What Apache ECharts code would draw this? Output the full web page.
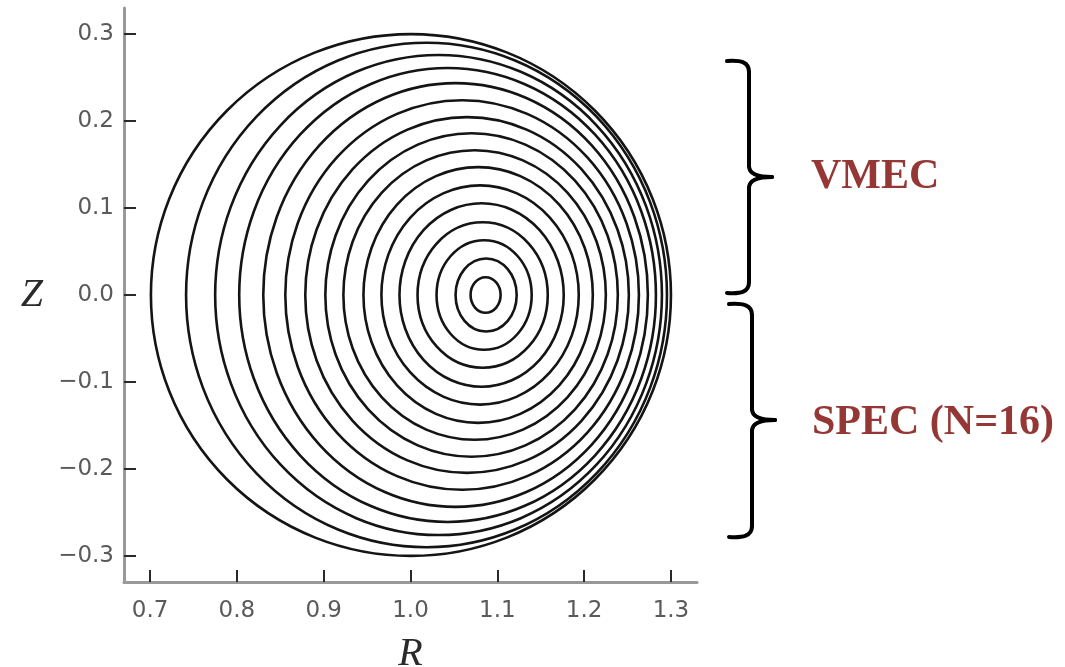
<!DOCTYPE html>
<html>
<head>
<meta charset="utf-8">
<script src="https://cdn.jsdelivr.net/npm/echarts@6/dist/echarts.min.js"></script>
<style>
  html, body { margin: 0; padding: 0; background: #ffffff; }
  #chart { width: 1065px; height: 667px; }
</style>
</head>
<body>
<div id="chart"></div>
<script>
// Nested flux surfaces, outermost first.
// Inboard / outboard midplane crossings (R) and half-height (Z) of each surface.
const surfaceRIn  = [0.701, 0.7415, 0.775, 0.8027, 0.8304, 0.8558, 0.8788, 0.9019,
                     0.9227, 0.9458, 0.9665, 0.9873, 1.0081, 1.0300, 1.0519, 1.0692];
const surfaceROut = [1.300, 1.2954, 1.2896, 1.2827, 1.2734, 1.2631, 1.2515, 1.2388,
                     1.2250, 1.2100, 1.1938, 1.1765, 1.1581, 1.1396, 1.1223, 1.1038];
const surfaceZTop = [0.300, 0.290, 0.276, 0.261, 0.2436, 0.224, 0.2045, 0.186,
                     0.1665, 0.147, 0.126, 0.1055, 0.0837, 0.063, 0.042, 0.0204];

// Axis ticks
const rTicks = [0.7, 0.8, 0.9, 1.0, 1.1, 1.2, 1.3];
const zTicks = [-0.3, -0.2, -0.1, 0.0, 0.1, 0.2, 0.3];

// Annotation texts for the upper and lower halves
const upperLabel = 'VMEC';
const lowerLabel = 'SPEC (N=16)';

const surfaces = surfaceRIn.map((rin, i) => [
  (rin + surfaceROut[i]) / 2,          // centre R
  (surfaceROut[i] - rin) / 2,          // half-width
  surfaceZTop[i]                       // half-height
]);

const fmt = v => (v < 0 ? '\u2212' : '') + Math.abs(v).toFixed(1);

const chart = echarts.init(document.getElementById('chart'), null, { renderer: 'canvas' });

const axisCommon = {
  type: 'value',
  splitLine: { show: false },
  axisLine: { show: true, onZero: false, lineStyle: { color: '#999999', width: 3 } },
  axisTick: { show: true, inside: true, length: 12, lineStyle: { color: '#2a2a2a', width: 2 } },
  axisLabel: {
    color: '#5a5a5a',
    fontFamily: 'DejaVu Sans',
    fontSize: 23,
    formatter: fmt
  },
  nameTextStyle: {
    fontFamily: 'Liberation Serif',
    fontStyle: 'italic',
    fontSize: 40,
    color: '#2a2a2a'
  }
};

const braceStyle = { fill: 'none', stroke: '#000000', lineWidth: 4, lineCap: 'round' };
const labelStyle = { fill: '#953735', fontFamily: 'Liberation Serif', fontWeight: 'bold', fontSize: 42 };

// Right-facing curly brace built from lines and cubic curves
function brace(xEnd, xBar, xTip, yTop, yMid, yBot) {
  const bz = (x1, y1, c1x, c1y, c2x, c2y, x2, y2) => ({
    type: 'bezierCurve', style: braceStyle,
    shape: { x1: x1, y1: y1, cpx1: c1x, cpy1: c1y, cpx2: c2x, cpy2: c2y, x2: x2, y2: y2 }
  });
  const ln = (x1, y1, x2, y2) => ({
    type: 'line', style: braceStyle, shape: { x1: x1, y1: y1, x2: x2, y2: y2 }
  });
  return [
    bz(xEnd, yTop, xEnd + 14, yTop - 1, xBar, yTop + 1, xBar, yTop + 11),
    ln(xBar, yTop + 11, xBar, yMid - 11),
    bz(xBar, yMid - 11, xBar, yMid - 3, xBar + 10, yMid, xTip, yMid),
    bz(xTip, yMid, xBar + 10, yMid, xBar, yMid + 3, xBar, yMid + 11),
    ln(xBar, yMid + 11, xBar, yBot - 11),
    bz(xBar, yBot - 11, xBar, yBot - 1, xEnd + 14, yBot + 1, xEnd, yBot)
  ];
}

// Closed elliptical path through the two midplane crossings
function ellipsePath(cx, cy, rx, ry) {
  return 'M' + (cx - rx) + ' ' + cy +
    ' A' + rx + ' ' + ry + ' 0 1 1 ' + (cx + rx) + ' ' + cy +
    ' A' + rx + ' ' + ry + ' 0 1 1 ' + (cx - rx) + ' ' + cy + ' Z';
}

chart.setOption({
  animation: false,
  backgroundColor: '#ffffff',
  grid: { left: 124, right: 368, top: 8, bottom: 85, outerBoundsMode: 'none' },
  xAxis: Object.assign({}, axisCommon, {
    min: 0.67, max: 1.33,
    name: 'R', nameLocation: 'middle', nameGap: 52,
    axisTick: Object.assign({}, axisCommon.axisTick, { customValues: rTicks }),
    axisLabel: Object.assign({}, axisCommon.axisLabel, { customValues: rTicks, margin: 18 })
  }),
  yAxis: Object.assign({}, axisCommon, {
    min: -0.33, max: 0.33,
    name: 'Z', nameLocation: 'middle', nameGap: 81, nameRotate: 0,
    nameTextStyle: Object.assign({}, axisCommon.nameTextStyle, { padding: [10, 0, 0, 0] }),
    axisTick: Object.assign({}, axisCommon.axisTick, { customValues: zTicks }),
    axisLabel: Object.assign({}, axisCommon.axisLabel, { customValues: zTicks, margin: 10 })
  }),
  series: [{
    type: 'custom',
    name: 'surfaces',
    clip: false,
    data: surfaces,
    encode: { x: 0, y: 2 },
    renderItem: function (params, api) {
      const c = api.coord([api.value(0), 0]);
      const s = api.size([api.value(1), api.value(2)]);
      return {
        type: 'path',
        shape: { pathData: ellipsePath(c[0], c[1], s[0], s[1]) },
        style: { fill: 'none', stroke: '#141414', lineWidth: 2.6 }
      };
    }
  }],
  graphic: []
    .concat(brace(727, 749, 772, 61, 177, 293))
    .concat(brace(729, 752, 775, 304, 420, 537))
    .concat([
      { type: 'text', x: 811, y: 177, style: Object.assign({ text: upperLabel, verticalAlign: 'middle' }, labelStyle) },
      { type: 'text', x: 812, y: 423, style: Object.assign({ text: lowerLabel, verticalAlign: 'middle' }, labelStyle) }
    ])
});
</script>
</body>
</html>
